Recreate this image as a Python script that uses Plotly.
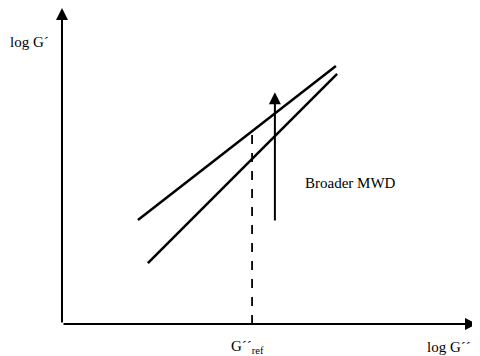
import plotly.graph_objects as go

# Conceptual data (log G'' on x, log G' on y)
upper_x = [1.83, 6.60]
upper_y = [2.63, 6.53]
lower_x = [2.07, 6.63]
lower_y = [1.54, 6.33]
ref_x = [4.58, 4.58]
ref_y = [0.0, 4.99]
arrow_x = [5.13, 5.13]
arrow_y = [2.58, 5.87]
x_axis_end = 10.0
y_axis_end = 8.0

FONT = "Liberation Serif, Times New Roman, serif"

fig = go.Figure()
fig.add_trace(go.Scatter(x=upper_x, y=upper_y, mode="lines",
                         line=dict(color="black", width=2.5), showlegend=False))
fig.add_trace(go.Scatter(x=lower_x, y=lower_y, mode="lines",
                         line=dict(color="black", width=2.5), showlegend=False))
fig.add_trace(go.Scatter(x=ref_x, y=ref_y, mode="lines",
                         line=dict(color="black", width=1.8, dash="dash"), showlegend=False))

annotations = [
    dict(x=x_axis_end, y=0, ax=0, ay=0, xref="x", yref="y", axref="x", ayref="y",
         showarrow=True, arrowhead=2, arrowsize=1.2, arrowwidth=2, arrowcolor="black", text=""),
    dict(x=0, y=y_axis_end, ax=0, ay=0, xref="x", yref="y", axref="x", ayref="y",
         showarrow=True, arrowhead=2, arrowsize=1.2, arrowwidth=2, arrowcolor="black", text=""),
    dict(x=arrow_x[1], y=arrow_y[1], ax=arrow_x[0], ay=arrow_y[0], xref="x", yref="y",
         axref="x", ayref="y", showarrow=True, arrowhead=2, arrowsize=1.2, arrowwidth=2,
         arrowcolor="black", text=""),
    dict(x=-1.30, y=7.14, xref="x", yref="y", text="log G´", showarrow=False,
         xanchor="left", yanchor="middle", font=dict(family=FONT, size=15, color="black")),
    dict(x=5.81, y=3.57, xref="x", yref="y", text="Broader MWD", showarrow=False,
         xanchor="left", yanchor="middle", font=dict(family=FONT, size=15, color="black")),
    dict(x=4.02, y=-0.58, xref="x", yref="y", text="G´´<sub>ref</sub>", showarrow=False,
         xanchor="left", yanchor="middle", font=dict(family=FONT, size=15, color="black")),
    dict(x=8.75, y=-0.58, xref="x", yref="y", text="log G´´", showarrow=False,
         xanchor="left", yanchor="middle", font=dict(family=FONT, size=15, color="black")),
]

# The page body adds an 8px offset; the plot area spans the whole figure.
fig.update_layout(
    width=480, height=356,
    margin=dict(l=0, r=0, t=0, b=0),
    paper_bgcolor="white", plot_bgcolor="white",
    xaxis=dict(range=[-1.301, 10.265], visible=False, fixedrange=True),
    yaxis=dict(range=[-1.013, 8.0], visible=False, fixedrange=True),
    annotations=annotations,
    showlegend=False,
)

fig.write_html("out.html")
